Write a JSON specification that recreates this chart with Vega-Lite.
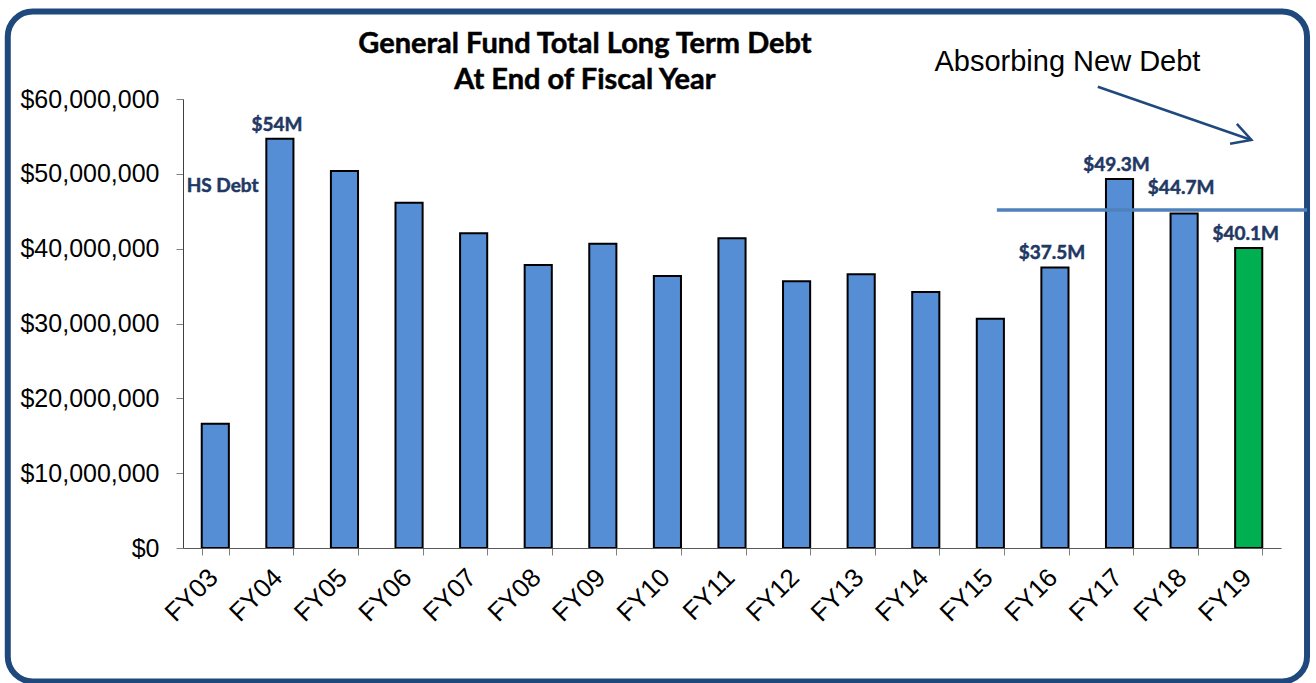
{
  "$schema": "https://vega.github.io/schema/vega-lite/v6.json",
  "width": 1098,
  "height": 449,
  "autosize": {"type": "none"},
  "padding": {"left": 183, "top": 99, "right": 35, "bottom": 135},
  "background": "white",
  "config": {"view": {"stroke": null}},
  "data": {
    "values": [
      {"year": "FY03", "debt": 16610000, "status": "Actual", "label": null},
      {"year": "FY04", "debt": 54700000, "status": "Actual", "label": "$54M"},
      {"year": "FY05", "debt": 50380000, "status": "Actual", "label": null},
      {"year": "FY06", "debt": 46140000, "status": "Actual", "label": null},
      {"year": "FY07", "debt": 42050000, "status": "Actual", "label": null},
      {"year": "FY08", "debt": 37820000, "status": "Actual", "label": null},
      {"year": "FY09", "debt": 40660000, "status": "Actual", "label": null},
      {"year": "FY10", "debt": 36350000, "status": "Actual", "label": null},
      {"year": "FY11", "debt": 41390000, "status": "Actual", "label": null},
      {"year": "FY12", "debt": 35640000, "status": "Actual", "label": null},
      {"year": "FY13", "debt": 36570000, "status": "Actual", "label": null},
      {"year": "FY14", "debt": 34210000, "status": "Actual", "label": null},
      {"year": "FY15", "debt": 30640000, "status": "Actual", "label": null},
      {"year": "FY16", "debt": 37500000, "status": "Actual", "label": "$37.5M"},
      {"year": "FY17", "debt": 49300000, "status": "Actual", "label": "$49.3M"},
      {"year": "FY18", "debt": 44700000, "status": "Actual", "label": "$44.7M"},
      {"year": "FY19", "debt": 40100000, "status": "Current", "label": "$40.1M"}
    ]
  },
  "encoding": {
    "x": {
      "field": "year",
      "type": "nominal",
      "sort": null,
      "scale": {
        "domain": ["FY03","FY04","FY05","FY06","FY07","FY08","FY09","FY10","FY11","FY12","FY13","FY14","FY15","FY16","FY17","FY18","FY19"],
        "paddingInner": 0.58,
        "paddingOuter": 0.29
      },
      "axis": {
        "title": null,
        "labelAngle": -45,
        "labelAlign": "right",
        "labelBaseline": "middle",
        "labelFont": "Liberation Sans",
        "labelFontSize": 26,
        "labelColor": "black",
        "labelPadding": 18,
        "labelOffset": -2,
        "tickBand": "extent",
        "tickSize": 7,
        "tickColor": "#7f7f7f",
        "domainColor": "#595959"
      }
    },
    "y": {
      "field": "debt",
      "type": "quantitative",
      "scale": {"domain": [0, 60000000], "nice": false, "zero": true},
      "axis": {
        "title": null,
        "format": "$,.0f",
        "values": [0, 10000000, 20000000, 30000000, 40000000, 50000000, 60000000],
        "labelFont": "Liberation Sans",
        "labelFontSize": 25,
        "labelColor": "black",
        "labelPadding": 17,
        "tickSize": 7,
        "tickColor": "#7f7f7f",
        "domainColor": "#404040",
        "grid": false
      }
    }
  },
  "layer": [
    {
      "data": {"values": [{"from": "FY03", "to": "FY19", "top": 71690000, "bottom": -17840000}]},
      "mark": {"type": "rect", "fill": null, "stroke": "#1F497D", "strokeWidth": 6, "cornerRadius": 25, "clip": false},
      "encoding": {
        "x": {"field": "from", "type": "nominal", "bandPosition": -7.15, "title": null},
        "x2": {"field": "to", "bandPosition": 2.65},
        "y": {"field": "top", "type": "quantitative", "title": null},
        "y2": {"field": "bottom"}
      }
    },
    {
      "data": {"values": [
        {"at": "FY09", "level": 66190000, "line": "General Fund Total Long Term Debt"},
        {"at": "FY09", "level": 61340000, "line": "At End of Fiscal Year"}
      ]},
      "mark": {"type": "text", "font": "Lato", "fontWeight": "bold", "fontSize": 29, "color": "black", "stroke": "black", "strokeWidth": 0.5, "baseline": "alphabetic", "align": "center", "clip": false},
      "encoding": {
        "x": {"field": "at", "type": "nominal", "bandPosition": -0.16, "title": null},
        "y": {"field": "level", "type": "quantitative", "title": null},
        "text": {"field": "line"}
      }
    },
    {
      "mark": {"type": "bar", "stroke": "black", "strokeWidth": 2},
      "encoding": {
        "color": {
          "field": "status",
          "type": "nominal",
          "scale": {"domain": ["Actual", "Current"], "range": ["#558ED5", "#00B050"]},
          "legend": null
        }
      }
    },
    {
      "transform": [{"filter": "datum.label != null && datum.year != 'FY18'"}],
      "mark": {"type": "text", "font": "Lato", "fontWeight": "bold", "fontSize": 19, "color": "#1F3864", "stroke": "#1F3864", "strokeWidth": 0.5, "baseline": "alphabetic", "dy": -8, "dx": -3},
      "encoding": {"text": {"field": "label"}}
    },
    {
      "transform": [{"filter": "datum.year == 'FY18'"}],
      "mark": {"type": "text", "font": "Lato", "fontWeight": "bold", "fontSize": 19, "color": "#1F3864", "stroke": "#1F3864", "strokeWidth": 0.5, "baseline": "alphabetic", "dy": -19, "dx": -3},
      "encoding": {"text": {"field": "label"}}
    },
    {
      "data": {"values": [{"at": "FY03", "level": 47570000, "note": "HS Debt"}]},
      "mark": {"type": "text", "font": "Lato", "fontWeight": "bold", "fontSize": 19, "color": "#1F3864", "stroke": "#1F3864", "strokeWidth": 0.5, "baseline": "alphabetic"},
      "encoding": {
        "x": {"field": "at", "type": "nominal", "bandPosition": 0.77, "title": null},
        "y": {"field": "level", "type": "quantitative", "title": null},
        "text": {"field": "note"}
      }
    },
    {
      "data": {"values": [{"from": "FY15", "to": "FY19", "level": 45170000}]},
      "mark": {"type": "rule", "color": "#4F81BD", "strokeWidth": 3.5, "clip": false},
      "encoding": {
        "x": {"field": "from", "type": "nominal", "bandPosition": 0.74, "title": null},
        "x2": {"field": "to", "bandPosition": 2.65},
        "y": {"field": "level", "type": "quantitative", "title": null}
      }
    },
    {
      "data": {"values": [{"from": "FY17", "to": "FY19", "start": 61640000, "end": 54520000}]},
      "mark": {"type": "rule", "color": "#1F497D", "strokeWidth": 2.5, "clip": false},
      "encoding": {
        "x": {"field": "from", "type": "nominal", "bandPosition": -0.3, "title": null},
        "x2": {"field": "to", "bandPosition": 0.6},
        "y": {"field": "start", "type": "quantitative", "title": null},
        "y2": {"field": "end"}
      }
    },
    {
      "data": {"values": [{"at": "FY19", "level": 54520000}]},
      "mark": {"type": "point", "shape": "M-1,-0.55L0,0L-1,0.55", "filled": false, "stroke": "#1F497D", "strokeWidth": 2.5, "size": 1444, "angle": 19, "opacity": 1, "clip": false},
      "encoding": {
        "x": {"field": "at", "type": "nominal", "bandPosition": 0.6, "title": null},
        "y": {"field": "level", "type": "quantitative", "title": null}
      }
    },
    {
      "data": {"values": [{"at": "FY16", "level": 63780000, "note": "Absorbing New Debt"}]},
      "mark": {"type": "text", "font": "Liberation Sans", "fontSize": 29, "color": "black", "baseline": "alphabetic", "clip": false},
      "encoding": {
        "x": {"field": "at", "type": "nominal", "bandPosition": 0.96, "title": null},
        "y": {"field": "level", "type": "quantitative", "title": null},
        "text": {"field": "note"}
      }
    }
  ]
}
